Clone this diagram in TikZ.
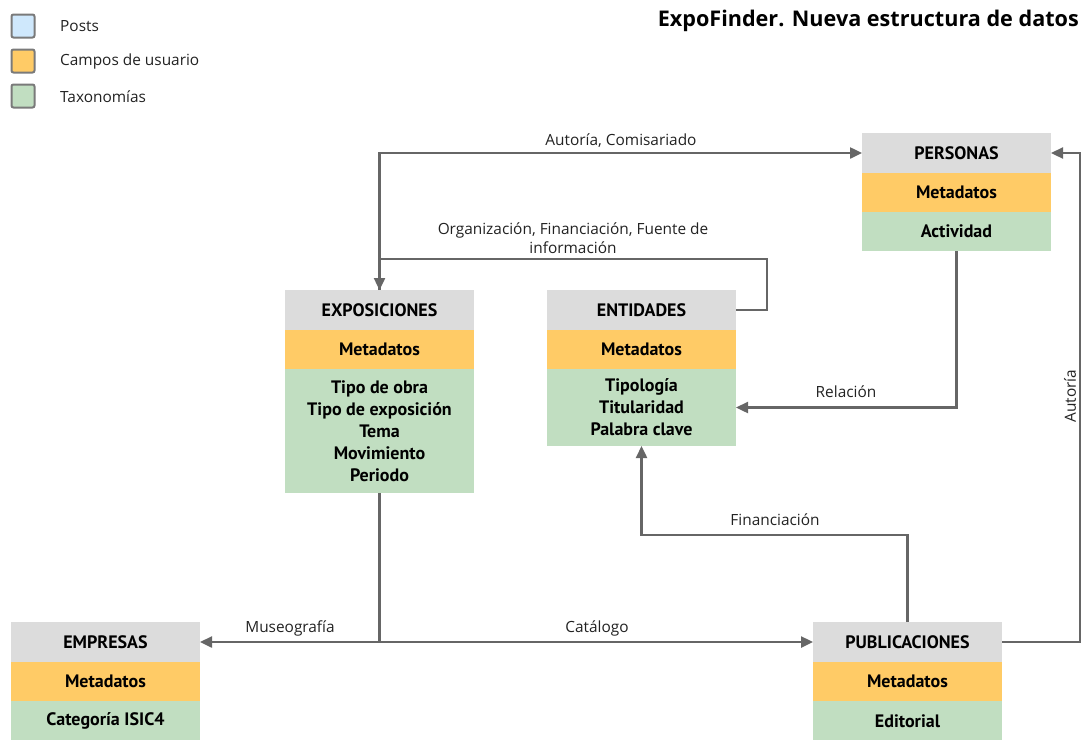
\documentclass[tikz,border=0pt]{standalone}
\usepackage{fontspec}
\usetikzlibrary{arrows.meta}
\setmainfont{Open Sans}
\newfontfamily\boxfont{PT Sans}
\definecolor{hdrgray}{HTML}{DCDCDC}
\definecolor{metaorange}{HTML}{FFCB66}
\definecolor{taxgreen}{HTML}{C1DEC1}
\definecolor{postblue}{HTML}{CFE8FC}
\definecolor{linegray}{HTML}{666666}
\definecolor{legendgray}{HTML}{7A7A7A}
\definecolor{labeltext}{HTML}{222222}
\tikzset{
  cell/.style={anchor=north west, minimum width=189pt, inner sep=0pt, outer sep=0pt,
    align=center, font=\boxfont\bfseries\fontsize{18}{22}\selectfont, text=black},
  hdr/.style={cell, fill=hdrgray, minimum height=40pt},
  meta/.style={cell, fill=metaorange, minimum height=39pt},
  tax/.style={cell, fill=taxgreen},
  conn/.style={draw=linegray, line width=2.4pt, -{Triangle[length=12pt,width=11pt]}},
  elabel/.style={font=\fontsize{15.4}{19.5}\selectfont, text=labeltext, align=center, inner sep=0pt},
  legbox/.style={draw=legendgray, line width=2pt, rounded corners=2pt, minimum size=23pt, inner sep=0pt},
  legtext/.style={font=\fontsize{15.4}{18}\selectfont, text=labeltext, anchor=west, inner sep=0pt}
}
\begin{document}
\begin{tikzpicture}[x=1pt, y=-1pt]
\useasboundingbox (0,0) rectangle (1083,739);

% legend
\node[legbox, fill=postblue]   (lg1) at (23,26) {};
\node[legbox, fill=metaorange] (lg2) at (23,61) {};
\node[legbox, fill=taxgreen]   (lg3) at (23,96) {};
\node[legtext] (lt1) at (60,26) {Posts};
\node[legtext] (lt2) at (60,61) {Campos de usuario};
\node[legtext] (lt3) at (60,97) {Taxonomías};

% title
\node[anchor=east, inner sep=0pt, font=\bfseries\fontsize{21.6}{24}\selectfont, text=black]
  (title) at (1079,21) {ExpoFinder. Nueva estructura de datos};

% PERSONAS
\node[hdr]  (pers)   at (862,133) {PERSONAS};
\node[meta] (pers-m) at (862,173) {Metadatos};
\node[tax, minimum height=39pt] (pers-t) at (862,212) {Actividad};

% EXPOSICIONES
\node[hdr]  (expo)   at (285,290) {EXPOSICIONES};
\node[meta] (expo-m) at (285,330) {Metadatos};
\node[tax, minimum height=124pt] (expo-t) at (285,369)
  {Tipo de obra\\Tipo de exposición\\Tema\\Movimiento\\Periodo};

% ENTIDADES
\node[hdr]  (enti)   at (547,290) {ENTIDADES};
\node[meta] (enti-m) at (547,330) {Metadatos};
\node[tax, minimum height=77pt] (enti-t) at (547,369)
  {Tipología\\Titularidad\\Palabra clave};

% EMPRESAS
\node[hdr]  (empr)   at (11,622) {EMPRESAS};
\node[meta] (empr-m) at (11,662) {Metadatos};
\node[tax, minimum height=40pt] (empr-t) at (11,701) {Categoría ISIC4};

% PUBLICACIONES
\node[hdr]  (publ)   at (813,622) {PUBLICACIONES};
\node[meta] (publ-m) at (813,662) {Metadatos};
\node[tax, minimum height=40pt] (publ-t) at (813,701) {Editorial};

% connectors
\draw[conn] (expo.north) |- (pers.west);
\draw[conn] (enti.east) -- ++(31,0) -- ++(0,-51) -| (expo.north);
\draw[conn] (pers-t.south) |- (enti-t.east);
\draw[conn] (publ.east) -- ++(78,0) |- (pers.east);
\draw[conn] (publ.north) -- ++(0,-87) -| (enti-t.south);
\coordinate (split) at (expo-t.south |- empr.east);
\draw[conn] (expo-t.south) |- (empr.east);
\draw[conn] (split) -- (publ.west);

% connector labels
\node[elabel] (l-aut)  at (621,141) {Autoría, Comisariado};
\node[elabel] (l-org)  at (573,238) {Organización, Financiación, Fuente de\\información};
\node[elabel] (l-rel)  at (846,392) {Relación};
\node[elabel, rotate=90] (l-aut2) at (1070,396) {Autoría};
\node[elabel] (l-fin)  at (775,520) {Financiación};
\node[elabel] (l-mus)  at (290,628) {Museografía};
\node[elabel] (l-cat)  at (597,628) {Catálogo};
\end{tikzpicture}
\end{document}
